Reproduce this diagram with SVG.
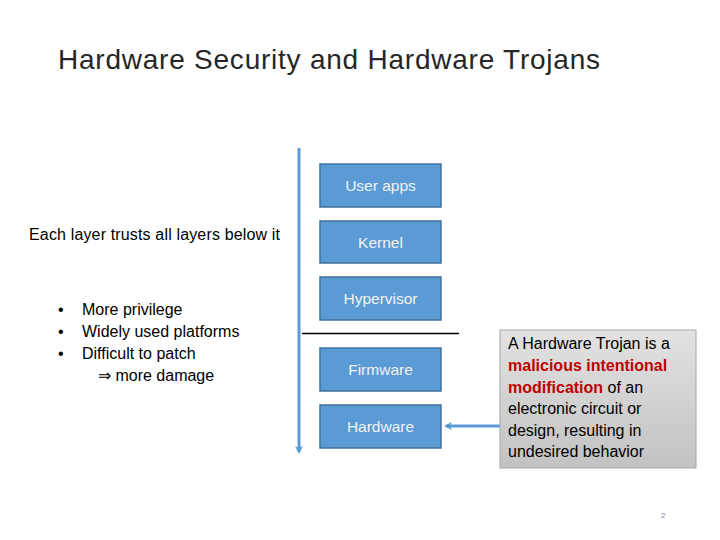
<svg xmlns="http://www.w3.org/2000/svg" width="720" height="540" viewBox="0 0 720 540">
<style>
text{font-family:"Liberation Sans",Arial,sans-serif}
.title{font-size:28px;fill:#262626}
.lbl{font-size:16px;fill:#000}
.box rect{fill:#5B9BD5;stroke:#41719C;stroke-width:1.5}
.box text{font-size:15.5px;fill:#F2F2F2;text-anchor:middle}
.red{fill:#C00000;font-weight:bold}
</style>
<defs>
<marker id="ah" markerWidth="8" markerHeight="8" refX="6" refY="4" orient="auto" markerUnits="userSpaceOnUse">
<path d="M0,0 L8,4 L0,8 L2,4 Z" fill="#5B9BD5"/>
</marker>
<linearGradient id="gg" x1="0" y1="0" x2="0" y2="1">
<stop offset="0" stop-color="#E2E2E2"/>
<stop offset="1" stop-color="#C2C2C2"/>
</linearGradient>
</defs>
<rect width="720" height="540" fill="#fff"/>
<text class="title" x="58" y="69" textLength="542">Hardware Security and Hardware Trojans</text>
<text class="lbl" x="29" y="240" textLength="251" font-size="15">Each layer trusts all layers below it</text>
<g>
<text class="lbl" x="58" y="315">•</text><text class="lbl" x="82" y="315">More privilege</text>
<text class="lbl" x="58" y="337">•</text><text class="lbl" x="82" y="337">Widely used platforms</text>
<text class="lbl" x="58" y="359">•</text><text class="lbl" x="82" y="359">Difficult to patch</text>
<text class="lbl" x="98" y="381">⇒ more damage</text>
</g>
<g id="connectors">
<line x1="299" y1="148" x2="299" y2="452" stroke="#5B9BD5" stroke-width="3" marker-end="url(#ah)"/>
<line x1="302" y1="333.5" x2="459" y2="333.5" stroke="#000" stroke-width="1.5"/>
<line x1="500" y1="426" x2="446" y2="426" stroke="#5B9BD5" stroke-width="3" marker-end="url(#ah)"/>
</g>
<g id="user-apps" class="box"><rect x="320" y="164" width="121" height="43"/><text x="380.5" y="191">User apps</text></g>
<g id="kernel" class="box"><rect x="320" y="221" width="121" height="42"/><text x="380.5" y="248">Kernel</text></g>
<g id="hypervisor" class="box"><rect x="320" y="277" width="121" height="43"/><text x="380.5" y="304">Hypervisor</text></g>
<g id="firmware" class="box"><rect x="320" y="348" width="121" height="43"/><text x="380.5" y="375">Firmware</text></g>
<g id="hardware" class="box"><rect x="320" y="405" width="121" height="43"/><text x="380.5" y="432">Hardware</text></g>
<g id="trojan-note">
<rect x="500" y="330" width="196" height="138" fill="url(#gg)" stroke="#A6A6A6" stroke-width="1"/>
<text class="lbl" x="508" y="349">A Hardware Trojan is a</text>
<text class="lbl red" x="508" y="371">malicious intentional</text>
<text class="lbl" x="508" y="393"><tspan class="red">modification</tspan> of an</text>
<text class="lbl" x="508" y="414">electronic circuit or</text>
<text class="lbl" x="508" y="436">design, resulting in</text>
<text class="lbl" x="508" y="457">undesired behavior</text>
</g>
<text x="661" y="518" font-size="8" fill="#7F7F7F">2</text>
</svg>
